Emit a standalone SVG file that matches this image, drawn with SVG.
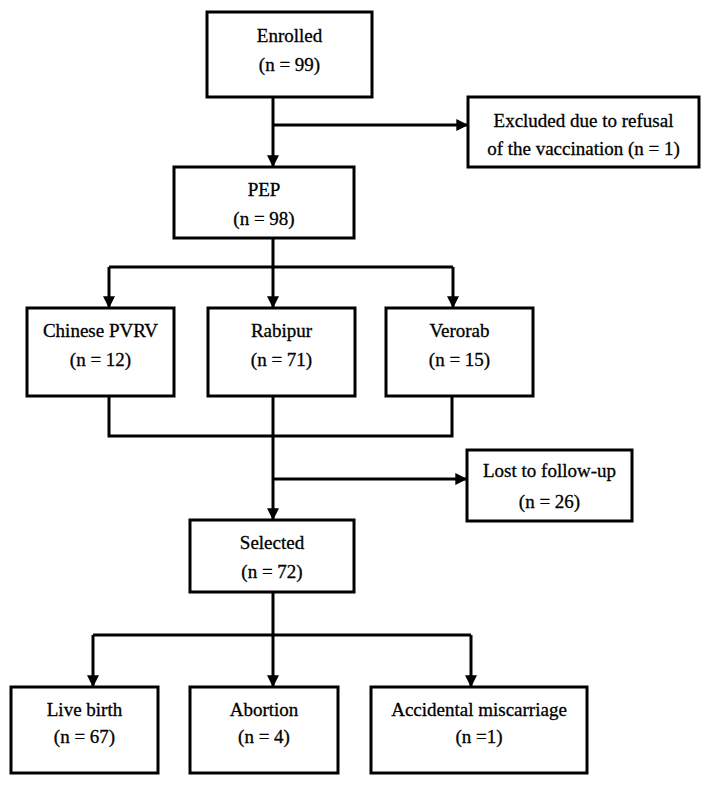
<svg xmlns="http://www.w3.org/2000/svg" width="712" height="787" viewBox="0 0 712 787">
<defs>
<marker id="ah" markerWidth="4.2" markerHeight="4.2" refX="3.9" refY="2" orient="auto" markerUnits="strokeWidth">
<path d="M0,0 L4,2 L0,4 Z" fill="#000"/>
</marker>
</defs>
<style>
rect{fill:#fff;stroke:#000;stroke-width:3}
text{font-family:"Liberation Serif","Times New Roman",serif;font-size:19px;fill:#000;stroke:#000;stroke-width:0.3;text-anchor:middle}
.c{fill:none;stroke:#000;stroke-width:3}
.a{marker-end:url(#ah)}
</style>
<rect x="0" y="0" width="712" height="787" style="stroke:none"/>
<g id="connectors">
<path class="c a" d="M273,97 V167"/>
<path class="c a" d="M273,125 H468"/>
<path class="c" d="M273,238 V267 M109,267 H453"/>
<path class="c a" d="M109,267 V308"/>
<path class="c a" d="M273,267 V308"/>
<path class="c a" d="M453,267 V308"/>
<path class="c" d="M109,396 V436 H452 V396"/>
<path class="c a" d="M273,396 V520"/>
<path class="c a" d="M273,479 H467"/>
<path class="c" d="M273,592 V635 M93,635 H471"/>
<path class="c a" d="M93,635 V687"/>
<path class="c a" d="M273,635 V687"/>
<path class="c a" d="M471,635 V687"/>
</g>
<g id="enrolled"><rect x="207" y="12" width="165" height="85"/><text x="289.5" y="42">Enrolled</text><text x="289.5" y="71">(n = 99)</text></g>
<g id="excluded"><rect x="468" y="97" width="231" height="70"/><text x="583.5" y="127">Excluded due to refusal</text><text x="583.5" y="155">of the vaccination (n = 1)</text></g>
<g id="pep"><rect x="174" y="167" width="180" height="71"/><text x="264" y="196">PEP</text><text x="264" y="225">(n = 98)</text></g>
<g id="chinese"><rect x="27" y="308" width="147" height="88"/><text x="100.5" y="337">Chinese PVRV</text><text x="100.5" y="366">(n = 12)</text></g>
<g id="rabipur"><rect x="208" y="308" width="147" height="88"/><text x="281.5" y="337">Rabipur</text><text x="281.5" y="366">(n = 71)</text></g>
<g id="verorab"><rect x="386" y="308" width="147" height="88"/><text x="459.5" y="337">Verorab</text><text x="459.5" y="366">(n = 15)</text></g>
<g id="lost"><rect x="467" y="450" width="165" height="71"/><text x="549.5" y="477">Lost to follow-up</text><text x="549.5" y="508">(n = 26)</text></g>
<g id="selected"><rect x="190" y="520" width="164" height="72"/><text x="272" y="549">Selected</text><text x="272" y="578">(n = 72)</text></g>
<g id="livebirth"><rect x="11" y="687" width="147" height="86"/><text x="84.5" y="716">Live birth</text><text x="84.5" y="743">(n = 67)</text></g>
<g id="abortion"><rect x="190" y="687" width="148" height="86"/><text x="264" y="716">Abortion</text><text x="264" y="743">(n = 4)</text></g>
<g id="accidental"><rect x="371" y="687" width="216" height="86"/><text x="479" y="716">Accidental miscarriage</text><text x="479" y="743">(n =1)</text></g>
</svg>
